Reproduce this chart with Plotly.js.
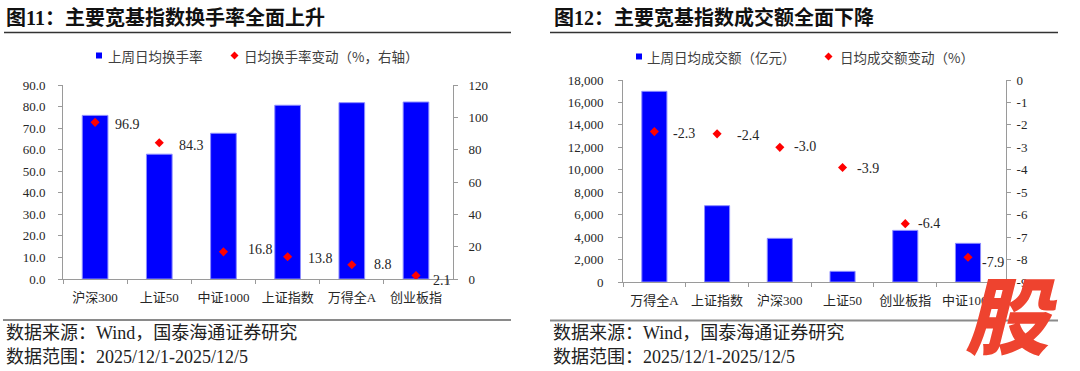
<!DOCTYPE html>
<html>
<head>
<meta charset="utf-8">
<script src="https://cdn.plot.ly/plotly-3.0.1.min.js"></script>
<style>
html,body{margin:0;padding:0;background:#fff;}
#chart{width:1080px;height:371px;}
</style>
</head>
<body>
<div id="chart"></div>
<script>
// ---------------- data ----------------
const leftCategories = ['沪深300', '上证50', '中证1000', '上证指数', '万得全A', '创业板指'];
const leftTurnover = [75.9, 57.9, 67.6, 80.6, 81.8, 82.1];          // 上周日均换手率
const leftTurnoverChange = [96.9, 84.3, 16.8, 13.8, 8.8, 2.1];       // 日均换手率变动（%，右轴）
const leftYTicks = [0, 10, 20, 30, 40, 50, 60, 70, 80, 90];
const leftY2Ticks = [0, 20, 40, 60, 80, 100, 120];

const rightCategories = ['万得全A', '上证指数', '沪深300', '上证50', '创业板指', '中证1000'];
const rightAmount = [16990, 6800, 3890, 950, 4600, 3445];            // 上周日均成交额（亿元）
const rightAmountChange = [-2.3, -2.4, -3.0, -3.9, -6.4, -7.9];      // 日均成交额变动（%）
const rightYTicks = [0, 2000, 4000, 6000, 8000, 10000, 12000, 14000, 16000, 18000];
const rightY2Ticks = [0, -1, -2, -3, -4, -5, -6, -7, -8, -9];

const leftTitle = '图11：主要宽基指数换手率全面上升';
const rightTitle = '图12：主要宽基指数成交额全面下降';
const leftLegend = ['上周日均换手率', '日均换手率变动（%，右轴）'];
const rightLegend = ['上周日均成交额（亿元）', '日均成交额变动（%）'];
const sourceText = '数据来源：Wind，国泰海通证券研究';
const rangeText = '数据范围：2025/12/1-2025/12/5';

// ---------------- styles ----------------
const W = 1080, H = 371;
const px = x => x / W;
const py = y => 1 - y / H;
const SERIF = 'Liberation Serif, "Noto Sans CJK SC", serif';
const TXT = '#262626';
const AX = '#9a9a9a';
const BLUE = '#0000FF';
const RED = '#FF0000';

// label offsets (pixels) for the point labels
const leftLabelDx = [18, 18, 23, 18, 20, 15];
const leftLabelDy = [-2, -3, 2, -2, 0, -5];
const rightLabelDx = [17, 18, 12, 12, 11, 12];
const rightLabelDy = [-2, -2, 1, -1, 0, -5];

const fmt1 = v => v.toFixed(1).replace('\u2212', '-');
const fmtThousands = v => v.toLocaleString('en-US');

const traces = [
  {
    type: 'bar', x: leftCategories, y: leftTurnover, xaxis: 'x', yaxis: 'y',
    width: 0.4, marker: {color: BLUE, line: {color: '#8c8cff', width: 1}},
    hoverinfo: 'skip', showlegend: false
  },
  {
    type: 'scatter', mode: 'markers', x: leftCategories, y: leftTurnoverChange, xaxis: 'x', yaxis: 'y2',
    marker: {symbol: 'diamond', size: 7, color: RED}, hoverinfo: 'skip', showlegend: false
  },
  {
    type: 'bar', x: rightCategories, y: rightAmount, xaxis: 'x2', yaxis: 'y3',
    width: 0.4, marker: {color: BLUE, line: {color: '#8c8cff', width: 1}},
    hoverinfo: 'skip', showlegend: false
  },
  {
    type: 'scatter', mode: 'markers', x: rightCategories, y: rightAmountChange, xaxis: 'x2', yaxis: 'y4',
    marker: {symbol: 'diamond', size: 7, color: RED}, hoverinfo: 'skip', showlegend: false
  }
];

const tickFont = {family: SERIF, size: 13, color: TXT};
const xCommon = {
  type: 'category', showgrid: false, zeroline: false, showline: true, linecolor: AX, linewidth: 1,
  ticks: 'outside', tickson: 'boundaries', ticklen: 4, tickcolor: AX, tickfont: tickFont,
  ticklabelstandoff: 6, fixedrange: true
};
const yCommon = {
  showgrid: false, zeroline: false, showline: true, linecolor: AX, linewidth: 1,
  ticks: 'outside', ticklen: 4, tickcolor: AX, tickfont: tickFont, fixedrange: true
};

const leftDom = [px(63), px(453)];
const leftYDom = [py(279), py(85)];
const rightDom = [px(623), px(1006)];
const rightYDom = [py(282), py(80)];

const layout = {
  width: W, height: H,
  margin: {l: 0, r: 0, t: 0, b: 0},
  paper_bgcolor: '#fff', plot_bgcolor: 'rgba(0,0,0,0)',
  showlegend: false,
  xaxis: Object.assign({}, xCommon, {domain: leftDom, anchor: 'y'}),
  yaxis: Object.assign({}, yCommon, {
    domain: leftYDom, anchor: 'x', range: [0, 90],
    tickvals: leftYTicks, ticktext: leftYTicks.map(fmt1), ticklabelstandoff: 10
  }),
  yaxis2: Object.assign({}, yCommon, {
    overlaying: 'y', side: 'right', anchor: 'x', range: [0, 120],
    tickvals: leftY2Ticks, ticktext: leftY2Ticks.map(String), ticklabelstandoff: 8
  }),
  xaxis2: Object.assign({}, xCommon, {domain: rightDom, anchor: 'y3'}),
  yaxis3: Object.assign({}, yCommon, {
    domain: rightYDom, anchor: 'x2', range: [0, 18000],
    tickvals: rightYTicks, ticktext: rightYTicks.map(fmtThousands), ticklabelstandoff: 12
  }),
  yaxis4: Object.assign({}, yCommon, {
    overlaying: 'y3', side: 'right', anchor: 'x2', range: [-9, 0],
    tickvals: rightY2Ticks, ticktext: rightY2Ticks.map(v => String(v)), ticklabelstandoff: 3
  }),
  shapes: [],
  annotations: []
};

// point labels
leftCategories.forEach((c, i) => {
  layout.annotations.push({
    xref: 'x', yref: 'y2', x: c, y: leftTurnoverChange[i], text: fmt1(leftTurnoverChange[i]),
    showarrow: false, xanchor: 'left', yanchor: 'middle', xshift: leftLabelDx[i], yshift: leftLabelDy[i],
    font: {family: SERIF, size: 14, color: TXT}
  });
});
rightCategories.forEach((c, i) => {
  layout.annotations.push({
    xref: 'x2', yref: 'y4', x: c, y: rightAmountChange[i], text: fmt1(rightAmountChange[i]),
    showarrow: false, xanchor: 'left', yanchor: 'middle', xshift: rightLabelDx[i], yshift: rightLabelDy[i],
    font: {family: SERIF, size: 14, color: TXT}
  });
});

function paperText(x, y, text, font, xanchor) {
  layout.annotations.push({
    xref: 'paper', yref: 'paper', x: px(x), y: py(y), text: text, showarrow: false,
    xanchor: xanchor || 'left', yanchor: 'middle', font: font
  });
}
function hline(x0, x1, y, color, width) {
  layout.shapes.push({type: 'line', xref: 'paper', yref: 'paper', x0: px(x0), x1: px(x1), y0: py(y), y1: py(y),
    line: {color: color, width: width}});
}
function legendSquare(x, y, s) {
  layout.shapes.push({type: 'rect', xref: 'paper', yref: 'paper', x0: px(x), x1: px(x + s), y0: py(y - s / 2), y1: py(y + s / 2),
    fillcolor: BLUE, line: {width: 0}});
}
function legendDiamond(cx, cy, r) {
  const p = `M ${px(cx - r)} ${py(cy)} L ${px(cx)} ${py(cy - r)} L ${px(cx + r)} ${py(cy)} L ${px(cx)} ${py(cy + r)} Z`;
  layout.shapes.push({type: 'path', xref: 'paper', yref: 'paper', path: p, fillcolor: RED, line: {width: 0}});
}

const titleFont = {family: SERIF, size: 20, color: '#111', weight: 'bold'};
const legendFont = {family: '"Noto Sans CJK SC", sans-serif', size: 13.5, color: '#404040'};
const footFont = {family: SERIF, size: 18, color: '#222'};

// titles and rules
paperText(4, 18, leftTitle, titleFont);
paperText(552, 18, rightTitle, titleFont);
hline(4, 511, 32.5, '#333', 1.5);
hline(550, 1058, 32.5, '#333', 1.5);

// legends
legendSquare(96, 55.5, 6);
paperText(106, 55.5, leftLegend[0], legendFont);
legendDiamond(234.5, 55.5, 4);
paperText(242, 55.5, leftLegend[1], legendFont);

legendSquare(636, 56.5, 6);
paperText(645, 56.5, rightLegend[0], legendFont);
legendDiamond(828.5, 56.5, 4);
paperText(838, 56.5, rightLegend[1], legendFont);

// footers
hline(3, 511, 320, '#8a8a8a', 2);
hline(550, 1058, 320.5, '#8a8a8a', 2);
paperText(4, 333, sourceText, footFont);
paperText(4, 357, rangeText, footFont);
paperText(551, 333, sourceText, footFont);
paperText(551, 357, rangeText, footFont);

// watermark
layout.annotations.push({
  xref: 'paper', yref: 'paper', x: px(1011), y: py(311), text: '股', showarrow: false,
  xanchor: 'center', yanchor: 'middle',
  font: {family: '"Noto Sans CJK SC", sans-serif', size: 84, color: '#EE432F', weight: 900, style: 'italic'}
});

Plotly.newPlot('chart', traces, layout, {staticPlot: true, displayModeBar: false});
</script>
</body>
</html>
